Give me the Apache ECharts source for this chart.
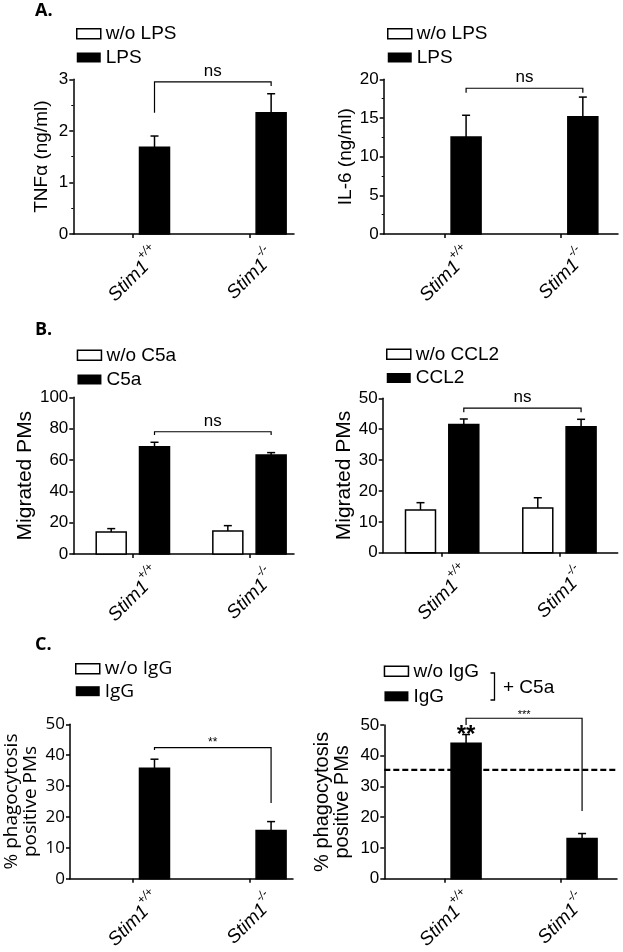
<!DOCTYPE html>
<html><head><meta charset="utf-8">
<script src="https://cdn.jsdelivr.net/npm/echarts@6/dist/echarts.min.js"></script>
<style>html,body{margin:0;padding:0;background:#fff}#c{width:623px;height:952px}</style>
</head><body><div id="c"></div>
<script>
// ---- data ----
const genotypes = ['+/+', '-/-'];          // superscripts of the Stim1 tick labels
const groupX = [1, 2];                      // group positions on the x scale
const tnfLps = [1.68, 2.35],  tnfLpsSem = [0.22, 0.37];
const il6Lps = [12.55, 15.15], il6LpsSem = [2.8, 2.55];
const migNoC5a = [14.0, 14.7], migNoC5aSem = [2.2, 3.4];
const migC5a = [68.5, 63.2],   migC5aSem = [2.8, 1.5];
const migNoCcl2 = [13.8, 14.5], migNoCcl2Sem = [2.4, 3.3];
const migCcl2 = [41.5, 40.8],   migCcl2Sem = [1.8, 2.4];
const phagoIgG = [35.8, 15.6],  phagoIgGSem = [2.9, 2.9];
const phagoIgGC5a = [44.1, 13.1], phagoIgGC5aSem = [2.8, 1.6];
const phagoBaseline = 35.4;
// brackets: [height, left leg end, right leg end]
const tnfBracket = [2.95, 2.35, 2.87];
const il6Bracket = [18.84, 18.27, 18.27];
const c5aBracket = [78, 75.9, 75.9];
const ccl2Bracket = [46.8, 45.5, 45.5];
const iggBracket = [42.45, 41.7, 24.5];
const iggC5aBracket = [52.2, 50.0, 22.0];
const sigLabels = ['ns', 'ns', 'ns', 'ns', '**', '***'];
const overBarMarks = ['**', ''];

// ---- layout ----
const AR = 'Liberation Sans';
const OS = 'Open Sans';
const grids = [
  {left: 73.3, top: 79.3, width: 220.7, height: 154.7},
  {left: 383.7, top: 79.3, width: 234.3, height: 154.7},
  {left: 73.3, top: 397.3, width: 220.7, height: 156.7},
  {left: 382.7, top: 398.3, width: 235, height: 154.4},
  {left: 70, top: 724.3, width: 223, height: 155},
  {left: 384.3, top: 725, width: 232.7, height: 155}
];
const xRanges = [[0.4906, 2.383], [0.481, 2.488], [0.4906, 2.383], [0.4945, 2.498], [0.4623, 2.375], [0.483, 2.489]];
const WHITE_OFF = -21.5, BLACK_OFF = 21.8;

function xAxis(gi) {
  return {
    type: 'value', gridIndex: gi, min: xRanges[gi][0], max: xRanges[gi][1],
    splitLine: {show: false},
    axisLine: {show: true, onZero: false, lineStyle: {color: '#000', width: 1.5}},
    axisTick: {show: true, customValues: groupX, length: 4, lineStyle: {color: '#000', width: 1.5}},
    axisLabel: {
      customValues: groupX, rotate: 45, align: 'center', verticalAlign: 'middle', margin: 39,
      formatter: v => '{i|Stim1}{s|' + genotypes[Math.round(v) - 1] + '}',
      rich: {
        i: {fontFamily: AR, fontStyle: 'italic', fontSize: 19, color: '#000', lineHeight: 25, verticalAlign: 'bottom'},
        s: {fontFamily: AR, fontStyle: 'italic', fontSize: 12, color: '#000', lineHeight: 25, verticalAlign: 'top'}
      }
    }
  };
}
function yAxis(gi, max, interval, name, nameGap, minor, font, nameSize, lh) {
  return {
    type: 'value', gridIndex: gi, min: 0, max: max, interval: interval,
    name: name, nameLocation: 'middle', nameGap: nameGap, nameRotate: 90,
    nameTextStyle: {fontFamily: font, fontSize: nameSize, color: '#000', lineHeight: lh},
    splitLine: {show: false},
    axisLine: {show: true, onZero: false, lineStyle: {color: '#000', width: 1.5}},
    axisTick: {show: true, length: 4, lineStyle: {color: '#000', width: 1.5}},
    minorTick: {show: minor, splitNumber: 2, length: 2, lineStyle: {color: '#000', width: 1}},
    axisLabel: {fontFamily: font, fontSize: 17, color: '#000', margin: 5}
  };
}
function bars(name, gi, values, sem, off, filled, marks) {
  return {
    type: 'custom', name: name, xAxisIndex: gi, yAxisIndex: gi,
    itemStyle: {color: filled ? '#000' : '#fff', borderColor: '#000'},
    data: values.map((v, i) => [groupX[i], v, v + sem[i], i]),
    renderItem: (params, api) => {
      const x = api.value(0), v = api.value(1), e = api.value(2), idx = api.value(3);
      const base = api.coord([x, 0]), top = api.coord([x, v]), et = api.coord([x, e]);
      const cx = base[0] + off;
      const ch = [
        {type: 'line', shape: {x1: cx, y1: top[1], x2: cx, y2: et[1]}, style: {stroke: '#000', lineWidth: 1.5}},
        {type: 'line', shape: {x1: cx - 4, y1: et[1], x2: cx + 4, y2: et[1]}, style: {stroke: '#000', lineWidth: 1.5}},
        {type: 'rect', shape: {x: cx - 15, y: top[1], width: 30, height: base[1] - top[1]},
          style: {fill: filled ? '#000' : '#fff', stroke: '#000', lineWidth: 1.5}}
      ];
      if (marks && marks[idx]) {
        ch.push({type: 'text', x: cx, y: et[1] + 13,
          style: {text: marks[idx], font: 'bold 24px "' + AR + '"', fill: '#000', align: 'center', verticalAlign: 'bottom'}});
      }
      return {type: 'group', children: ch};
    }
  };
}
function bracket(gi, spec, label, fontSize, gap) {
  return {
    type: 'custom', xAxisIndex: gi, yAxisIndex: gi, silent: true,
    data: [[groupX[0], groupX[1], spec[0], spec[1], spec[2]]],
    renderItem: (params, api) => {
      const p1 = api.coord([api.value(0), api.value(2)]);
      const p2 = api.coord([api.value(1), api.value(2)]);
      const l = api.coord([api.value(0), api.value(3)]);
      const r = api.coord([api.value(1), api.value(4)]);
      const x1 = p1[0] + BLACK_OFF, x2 = p2[0] + BLACK_OFF, y = p1[1];
      return {type: 'group', children: [
        {type: 'polyline', shape: {points: [[x1, l[1]], [x1, y], [x2, y], [x2, r[1]]]},
          style: {stroke: '#000', lineWidth: 1.2, fill: null}},
        {type: 'text', x: (x1 + x2) / 2, y: y - gap,
          style: {text: label, fontFamily: AR, fontSize: fontSize, fill: '#000', align: 'center', verticalAlign: 'bottom'}}
      ]};
    }
  };
}
function legend(left, top, gap, names, font) {
  return {
    left: left, top: top, orient: 'vertical', padding: 0, itemWidth: 24, itemHeight: 10, itemGap: gap,
    selectedMode: false,
    textStyle: {fontFamily: font, fontSize: 19, color: '#000', lineHeight: 19},
    data: [
      {name: names[0], icon: 'rect', itemStyle: {color: '#fff', borderColor: '#000', borderWidth: 1.5}},
      {name: names[1], icon: 'rect', itemStyle: {color: '#000', borderWidth: 0}}
    ]
  };
}

const option = {
  animation: false,
  backgroundColor: '#fff',
  grid: grids,
  xAxis: [0, 1, 2, 3, 4, 5].map(xAxis),
  yAxis: [
    yAxis(0, 3, 1, 'TNFα (ng/ml)', 22, true, AR, 19, 19),
    yAxis(1, 20, 5, 'IL-6 (ng/ml)', 28, true, AR, 19, 19),
    yAxis(2, 100, 20, 'Migrated PMs', 29, false, AR, 21, 21),
    yAxis(3, 50, 10, 'Migrated PMs', 28, false, AR, 21, 21),
    yAxis(4, 50, 10, '% phagocytosis\npositive PMs', 30, false, OS, 19, 19),
    yAxis(5, 50, 10, '% phagocytosis\npositive PMs', 32, false, AR, 20, 20)
  ],
  legend: [
    legend(76, 24.3, 4.7, ['w/o LPS', 'LPS'], AR),
    legend(387, 24.3, 4.7, ['w/o LPS', 'LPS'], AR),
    legend(76.7, 345.8, 5.2, ['w/o C5a', 'C5a'], AR),
    legend(386, 344.8, 4.7, ['w/o CCL2', 'CCL2'], AR),
    legend(75, 659.2, 3.5, ['w/o IgG', 'IgG'], OS),
    legend(383.7, 661.8, 6, ['w/o IgG ', 'IgG '], AR)
  ],
  graphic: [
    {type: 'text', left: 35, top: 2, style: {text: 'A.', font: 'bold 18px "Open Sans"', fill: '#000'}},
    {type: 'text', left: 35, top: 321, style: {text: 'B.', font: 'bold 18px "Open Sans"', fill: '#000'}},
    {type: 'text', left: 35, top: 636, style: {text: 'C.', font: 'bold 18px "Open Sans"', fill: '#000'}},
    {type: 'polyline', shape: {points: [[490.5, 673], [494.5, 673], [494.5, 700], [490.5, 700]]},
      style: {stroke: '#000', lineWidth: 1.3, fill: null}},
    {type: 'text', left: 503, top: 678, style: {text: '+ C5a', font: '19px "Liberation Sans"', fill: '#000'}}
  ],
  series: [
    bars('w/o LPS', 0, [], [], WHITE_OFF, false),
    bars('LPS', 0, tnfLps, tnfLpsSem, BLACK_OFF, true),
    bracket(0, tnfBracket, sigLabels[0], 17, 2),
    bars('w/o LPS', 1, [], [], WHITE_OFF, false),
    bars('LPS', 1, il6Lps, il6LpsSem, BLACK_OFF, true),
    bracket(1, il6Bracket, sigLabels[1], 17, 2),
    bars('w/o C5a', 2, migNoC5a, migNoC5aSem, WHITE_OFF, false),
    bars('C5a', 2, migC5a, migC5aSem, BLACK_OFF, true),
    bracket(2, c5aBracket, sigLabels[2], 17, 2),
    bars('w/o CCL2', 3, migNoCcl2, migNoCcl2Sem, WHITE_OFF, false),
    bars('CCL2', 3, migCcl2, migCcl2Sem, BLACK_OFF, true),
    bracket(3, ccl2Bracket, sigLabels[3], 17, 2),
    bars('w/o IgG', 4, [], [], WHITE_OFF, false),
    bars('IgG', 4, phagoIgG, phagoIgGSem, BLACK_OFF, true),
    bracket(4, iggBracket, sigLabels[4], 12, -1),
    {type: 'line', xAxisIndex: 5, yAxisIndex: 5, silent: true, symbol: 'none',
      data: [[xRanges[5][0], phagoBaseline], [xRanges[5][1], phagoBaseline]],
      lineStyle: {color: '#000', width: 2.2, type: [6, 3]}},
    bars('w/o IgG ', 5, [], [], WHITE_OFF, false),
    bars('IgG ', 5, phagoIgGC5a, phagoIgGC5aSem, BLACK_OFF, true, overBarMarks),
    bracket(5, iggC5aBracket, sigLabels[5], 11, -2)
  ]
};
const chart = echarts.init(document.getElementById('c'), null, {renderer: 'canvas'});
chart.setOption(option);
</script></body></html>
